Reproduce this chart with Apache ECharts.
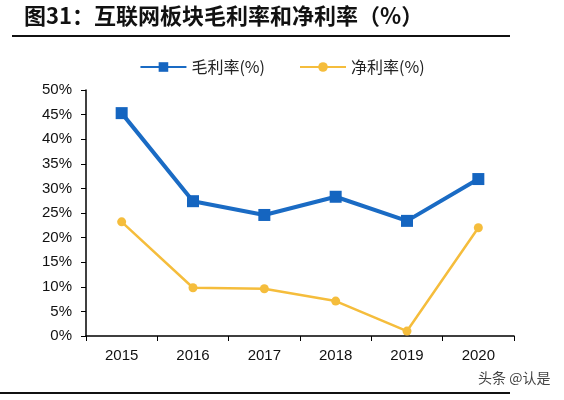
<!DOCTYPE html>
<html>
<head>
<meta charset="utf-8">
<script src="https://cdn.jsdelivr.net/npm/echarts@6/dist/echarts.min.js"></script>
<style>
  html, body { margin: 0; padding: 0; background: #fff; }
  #myChart { width: 564px; height: 400px; }
</style>
</head>
<body>
<div id="myChart"></div>
<script>
  // 数据
  const years = ['2015', '2016', '2017', '2018', '2019', '2020'];
  const grossMargin = [45.3, 27.4, 24.6, 28.3, 23.4, 31.9];
  const netMargin = [23.2, 9.8, 9.6, 7.1, 1.0, 22.0];
  const seriesNames = ['毛利率(%)', '净利率(%)'];

  let myChart = echarts.init(document.getElementById('myChart'));
  myChart.setOption({
    animation: false,
    backgroundColor: '#fff',
    graphic: [
      {
        type: 'text', left: 24, top: 5,
        style: { text: '图31：互联网板块毛利率和净利率（%）', font: 'bold 22px "Noto Sans CJK SC"', fill: '#111' }
      },
      { type: 'line', shape: { x1: 12, y1: 36, x2: 510, y2: 36 }, style: { stroke: '#111', lineWidth: 2 } },
      { type: 'line', shape: { x1: 0, y1: 393, x2: 510, y2: 393 }, style: { stroke: '#111', lineWidth: 2 } },
      {
        type: 'text', left: 478, top: 371,
        style: { text: '头条 @认是', font: '14px "Noto Sans CJK SC"', fill: '#444' }
      }
    ],
    legend: {
      data: seriesNames,
      top: 54,
      left: 'center',
      itemWidth: 46,
      itemHeight: 12,
      itemGap: 34,
      textStyle: { fontFamily: '"Noto Sans CJK SC"', fontSize: 16, color: '#222' }
    },
    grid: { left: 86, right: 50, top: 90, bottom: 64 },
    xAxis: {
      type: 'category',
      data: years,
      boundaryGap: true,
      axisLine: { lineStyle: { color: '#000', width: 1.5 } },
      axisTick: { show: true, alignWithLabel: false, length: 5, lineStyle: { color: '#000' } },
      axisLabel: { color: '#111', fontSize: 15, fontFamily: 'Arial, "Liberation Sans"', margin: 12 }
    },
    yAxis: {
      type: 'value',
      min: 0, max: 50, interval: 5,
      axisLine: { show: true, lineStyle: { color: '#000', width: 1.5 } },
      axisTick: { show: true, inside: false, length: 5, lineStyle: { color: '#000' } },
      splitLine: { show: false },
      axisLabel: { color: '#111', fontSize: 15, fontFamily: 'Arial, "Liberation Sans"', formatter: '{value}%', margin: 14 }
    },
    series: [
      {
        name: seriesNames[0],
        type: 'line',
        data: grossMargin,
        symbol: 'rect',
        symbolSize: 12,
        itemStyle: { color: '#1565c0' },
        lineStyle: { color: '#1a6bc4', width: 4 }
      },
      {
        name: seriesNames[1],
        type: 'line',
        data: netMargin,
        symbol: 'circle',
        symbolSize: 9,
        itemStyle: { color: '#f5bd3c' },
        lineStyle: { color: '#f5bd3c', width: 2.5 }
      }
    ]
  });
</script>
</body>
</html>
